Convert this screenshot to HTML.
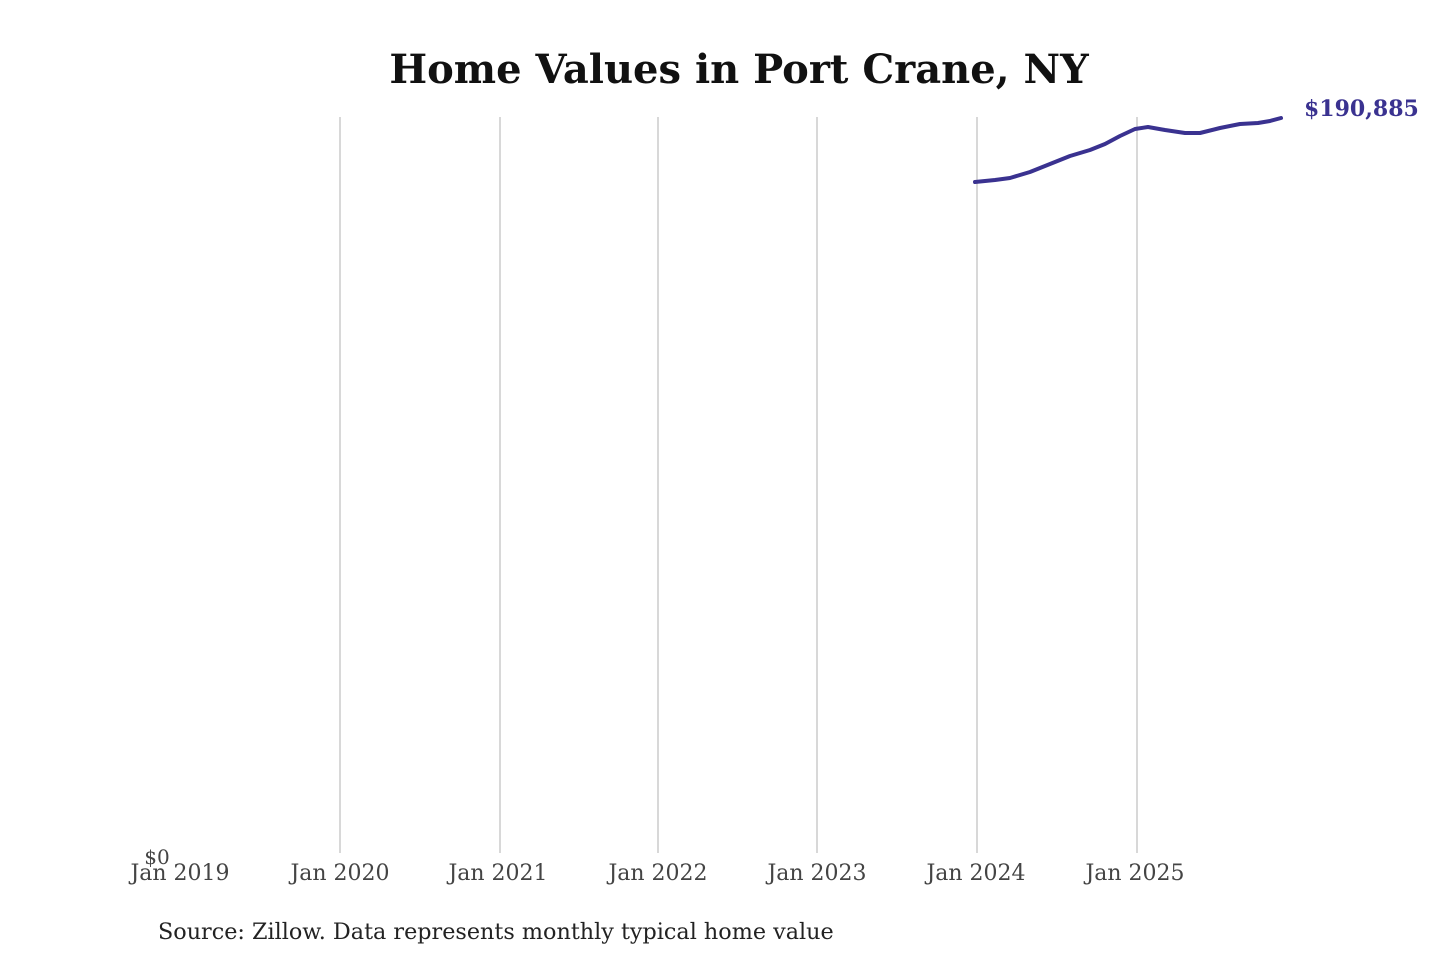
<!DOCTYPE html>
<html><head><meta charset="utf-8"><style>
body{margin:0;background:#fff;}
svg{display:block;font-family:"DejaVu Serif","Liberation Serif",serif;}
</style></head><body>
<svg width="1440" height="960" xmlns="http://www.w3.org/2000/svg">
<rect width="1440" height="960" fill="#fff"/>
<text x="739" y="83" text-anchor="middle" font-size="40" font-weight="bold" fill="#111">Home Values in Port Crane, NY</text>
<g stroke="#c4c4c4" stroke-width="1.3">
<line x1="340" y1="117" x2="340" y2="853"/>
<line x1="500" y1="117" x2="500" y2="853"/>
<line x1="658" y1="117" x2="658" y2="853"/>
<line x1="817" y1="117" x2="817" y2="853"/>
<line x1="977" y1="117" x2="977" y2="853"/>
<line x1="1137" y1="117" x2="1137" y2="853"/>
</g>
<polyline fill="none" stroke="#3a3290" stroke-width="4" stroke-linejoin="round" stroke-linecap="round" points="975,182 995,180 1010,178 1030,172 1050,164 1070,156 1090,150 1105,144 1120,136 1135,129 1148,127 1165,130 1185,133 1200,133 1220,128 1240,124 1258,123 1270,121 1281,118"/>
<text x="1304" y="116" font-size="22" font-weight="bold" fill="#3a3290">$190,885</text>
<g font-size="22" fill="#444" text-anchor="middle">
<text x="157" y="864" font-size="20">$0</text>
<text x="180" y="880">Jan 2019</text>
<text x="340" y="880">Jan 2020</text>
<text x="498" y="880">Jan 2021</text>
<text x="658" y="880">Jan 2022</text>
<text x="817" y="880">Jan 2023</text>
<text x="976" y="880">Jan 2024</text>
<text x="1135" y="880">Jan 2025</text>
</g>
<text x="158" y="939" font-size="22.3" fill="#222">Source: Zillow. Data represents monthly typical home value</text>
</svg>
</body></html>
